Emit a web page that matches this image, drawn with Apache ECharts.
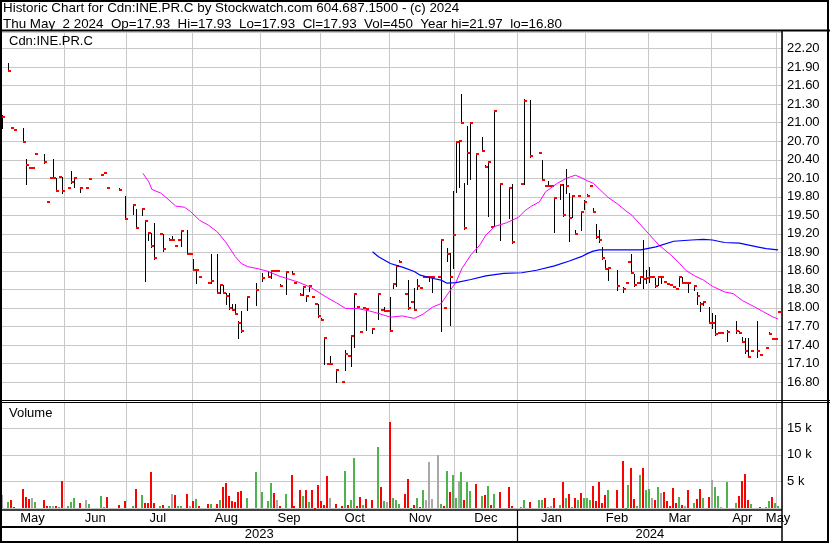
<!DOCTYPE html>
<html><head><meta charset="utf-8">
<script src="https://cdn.jsdelivr.net/npm/echarts@6/dist/echarts.min.js"></script>
<style>html,body{margin:0;padding:0;background:#fff}#c{width:830px;height:543px}</style>
</head><body><div id="c"></div>
<script>
const _ = null;
const headerLine1 = 'Historic Chart for Cdn:INE.PR.C by Stockwatch.com 604.687.1500 - (c) 2024';
const headerLine2 = 'Thu May  2 2024  Op=17.93  Hi=17.93  Lo=17.93  Cl=17.93  Vol=450  Year hi=21.97  lo=16.80';
const symbolLabel = 'Cdn:INE.PR.C';
const volumeLabel = 'Volume';
const firstDay = '2023-05-03';
const lastDay = '2024-05-02';
const monthStarts = ['2023-06-01','2023-06-30','2023-08-01','2023-09-01','2023-09-29','2023-11-01','2023-12-01','2024-01-01','2024-02-01','2024-03-01','2024-04-01','2024-05-01'];
const monthNames = ['May','Jun','Jul','Aug','Sep','Oct','Nov','Dec','Jan','Feb','Mar','Apr','May'];
const yearStarts = ['2024-01-01'];
const yearNames = ['2023','2024'];
const priceMin = 16.5, priceMax = 22.47, priceStep = 0.3;
const volumeMax = 19856, volumeStep = 5000;

const closes = [
 21.10,_,21.84,20.91,20.89,_,_,20.69,20.32,20.26,
 20.26,20.49,_,_,20.36,19.71,20.10,20.10,19.90,20.12,
 19.90,_,19.95,20.04,20.10,_,19.95,_,19.95,20.09,
 _,_,_,20.15,20.19,19.95,_,_,_,19.91,
 _,19.44,_,_,19.66,19.30,_,19.60,19.40,19.22,
 19.01,18.81,_,19.19,18.95,_,19.10,19.10,19.01,19.10,
 19.25,_,18.88,18.88,18.62,18.62,18.50,_,_,18.41,
 18.43,_,18.24,18.37,18.24,18.19,18.00,17.97,17.90,17.76,
 17.63,_,18.18,_,_,18.29,_,18.48,_,18.50,
 18.60,18.59,18.59,18.36,_,18.58,_,18.55,18.41,_,
 18.21,18.34,18.20,18.35,18.18,18.07,17.87,17.81,17.52,17.09,
 17.09,_,16.99,_,16.80,17.26,17.22,17.54,18.22,18.01,
 17.61,18.00,17.99,_,17.66,_,18.23,17.97,17.95,17.95,
 17.63,18.38,18.68,18.74,_,18.22,18.00,18.10,17.97,18.35,
 18.32,18.50,18.50,18.50,18.50,_,18.50,19.10,18.00,18.88,
 18.50,19.18,20.69,20.71,20.99,19.29,20.51,20.99,_,20.50,
 _,20.54,20.28,20.36,19.31,21.19,_,20.00,_,_,
 19.94,19.06,_,_,20.00,21.36,_,20.46,_,_,
 20.51,20.07,19.98,19.98,19.98,19.78,_,19.99,19.50,19.98,
 19.46,19.81,19.19,19.81,19.55,19.72,19.81,19.98,19.55,19.15,
 19.10,18.81,18.63,18.64,_,_,18.35,_,18.31,18.40,
 18.74,18.57,18.37,18.40,18.50,18.47,18.49,18.50,18.50,18.35,
 18.50,18.50,18.42,18.39,18.37,18.34,18.30,18.50,18.40,18.40,
 18.40,_,18.35,18.19,18.06,18.10,_,17.76,17.76,17.57,
 17.59,17.59,_,17.61,_,_,17.63,17.59,17.45,17.30,
 17.21,17.31,_,17.30,17.24,_,17.35,17.58,17.50,17.50,
 17.93,_];

const highs = [
 21.13,_,21.97,_,_,_,_,20.91,20.41,_,
 _,_,_,_,20.50,_,_,20.41,20.10,_,
 20.12,_,_,20.22,20.11,_,19.96,_,_,_,
 _,_,_,_,_,_,_,_,_,19.95,
 _,19.81,_,_,19.67,19.61,_,19.61,19.41,19.23,
 19.21,19.37,_,_,19.19,_,19.14,19.16,_,_,
 19.26,_,19.26,_,18.80,18.63,_,_,_,_,
 18.87,_,18.87,18.37,18.37,18.24,18.24,18.06,18.06,17.78,
 17.95,_,18.18,_,_,18.40,_,18.56,_,18.60,
 18.60,_,_,18.39,_,18.60,_,18.60,_,_,
 18.24,18.35,18.21,18.36,_,_,18.06,17.83,17.53,_,
 17.22,_,17.00,_,_,17.32,_,17.56,18.24,_,
 _,_,18.00,_,17.66,_,18.24,_,18.01,_,
 18.17,18.39,18.69,18.78,_,_,18.45,_,18.32,18.47,
 _,_,_,18.50,18.50,_,_,19.11,_,18.97,
 18.89,19.89,20.69,20.72,21.46,20.02,20.94,21.00,_,20.51,
 _,20.77,20.31,20.38,_,21.21,_,20.00,_,_,
 19.95,20.00,_,_,_,21.38,_,21.37,_,_,
 _,20.39,_,20.05,_,19.78,_,20.01,20.00,20.25,
 19.86,19.82,19.26,_,19.56,19.75,19.84,_,19.62,19.36,
 19.26,18.98,18.78,18.64,_,_,18.61,_,18.34,_,
 18.76,18.87,18.55,_,18.52,19.10,18.61,18.67,_,18.48,
 18.50,18.50,_,_,_,_,_,18.50,18.50,_,
 18.42,_,18.37,18.26,18.10,18.10,_,18.02,17.91,17.89,
 _,_,_,17.64,_,_,17.78,17.63,17.53,17.51,
 17.52,_,_,17.79,_,_,_,17.61,_,_,
 _,_];

const lows = [
 20.91,_,21.84,_,_,_,_,20.68,20.00,_,
 _,_,_,_,20.35,_,_,20.10,19.89,_,
 19.86,_,_,20.03,19.96,_,19.87,_,_,_,
 _,_,_,_,_,_,_,_,_,19.91,
 _,19.44,_,_,19.52,19.29,_,19.50,18.44,19.10,
 18.99,18.80,_,_,18.93,_,19.10,19.10,_,_,
 19.00,_,18.87,_,18.61,18.40,_,_,_,_,
 18.40,_,18.24,18.24,18.24,18.07,17.99,17.97,17.90,17.51,
 17.61,_,17.97,_,_,18.05,_,18.44,_,18.50,
 18.48,_,_,18.36,_,18.23,_,18.55,_,_,
 18.21,18.21,18.12,18.28,_,_,17.86,17.81,17.09,_,
 17.09,_,16.80,_,_,16.99,_,17.06,17.37,_,
 _,_,17.65,_,17.59,_,17.82,_,17.95,_,
 17.63,18.33,18.35,18.74,_,_,17.99,_,17.97,18.30,
 _,_,_,18.44,18.25,_,_,17.63,_,18.76,
 17.72,18.64,19.88,19.96,20.99,19.28,20.01,20.09,_,18.91,
 _,20.54,20.28,19.49,_,19.32,_,19.10,_,_,
 19.45,19.05,_,_,_,20.00,_,20.44,_,_,
 _,20.07,_,19.98,_,19.23,_,19.77,19.49,19.86,
 19.09,19.48,19.19,_,19.27,19.60,19.81,_,19.55,19.14,
 19.06,18.80,18.63,18.45,_,_,18.29,_,18.25,_,
 18.74,18.57,18.35,_,18.41,18.33,18.41,18.42,_,18.34,
 18.37,18.41,_,_,_,_,_,18.35,18.40,_,
 18.25,_,18.29,18.07,17.95,18.05,_,17.76,17.67,17.56,
 _,_,_,17.47,_,_,17.59,17.59,17.45,17.27,
 17.20,_,_,17.21,_,_,_,17.58,_,_,
 _,_];

const volumes = [
 2445,_,1190,1505,250,_,_,3574,2069,1693,
 1881,1129,_,_,1505,376,376,376,376,125,
 5079,_,376,1129,1881,_,1003,_,1505,752,
 _,_,_,2257,100,2069,_,_,_,564,
 _,1379,_,_,376,3574,_,2445,1003,878,
 6772,1003,_,376,564,_,376,2633,2445,376,
 376,_,2633,376,1317,1693,376,_,_,752,
 752,_,752,1505,3950,4765,2257,1379,1129,3010,
 3198,_,1881,_,_,6772,_,3010,_,1317,
 4702,2822,1505,376,_,2633,_,6207,376,_,
 3386,2257,3386,1129,3386,60,4326,1317,564,6019,
 1881,_,752,_,376,6960,564,1505,9405,376,
 2069,564,1693,_,1505,_,11474,3950,1317,1129,
 16177,1881,1505,752,_,2633,5455,60,564,1881,
 188,3386,1505,8653,1693,_,9969,752,376,6960,
 3010,6207,1881,5079,6772,1505,4891,3198,_,4514,
 _,2257,2445,4138,564,2633,_,3010,_,_,
 3950,376,_,_,188,1505,_,1129,_,_,
 1505,1505,1881,250,376,1881,_,564,4891,1881,
 2633,188,1881,1505,2822,1881,1881,1505,4138,1317,
 4891,940,2445,3386,_,_,3386,_,8840,60,
 4326,7524,1693,376,6207,7524,3386,3574,1881,1505,
 3950,2822,3010,1317,376,3762,940,2069,564,376,
 3386,_,940,1693,3574,1881,_,2069,5267,3950,
 2257,188,_,4891,_,_,940,2257,5079,6395,
 1505,752,_,_,188,_,188,1317,2069,940,
 376,_];

// u = closed up (green), d = closed down (red), n = unchanged (grey), . = no trade
const volumeTrend = (
 'n.udd..ddd' + 'nu..ddundu' + 'd.uuu.d.nu' + '...uud...d' + '.d..ud.udd' +
 'dd.ud.undu' + 'u.dndud..d' + 'u.dudddddd' + 'd.u..u.u.u' + 'udnd.u.dd.' +
 'dududddddd' + 'n.d.duduud' + 'dud.d.udun' + 'duuu.ddudu' + 'dunnn.nudu' +
 'duunuduu.d' + '.ududu.d..' + 'dd..uu.d..' + 'uudnnd.udu' + 'dududuuudd' +
 'dddu..d.du' + 'udduuduund' + 'undddddudn' + 'd.uddu.dnu' + 'un.u..uddd' +
 'du..d.uudu' + 'u.').split('');

const ma50 = [
 _,_,_,_,_,_,_,_,_,_,
 _,_,_,_,_,_,_,_,_,_,
 _,_,_,_,_,_,_,_,_,_,
 _,_,_,_,_,_,_,_,_,_,
 _,_,_,_,_,_,_,20.18,_,20.04,
 19.92,_,_,19.86,_,19.78,_,_,19.65,_,
 _,19.63,_,19.56,_,_,19.42,_,_,19.34,
 _,_,19.23,_,_,19.05,_,_,18.83,_,
 18.72,_,18.67,_,_,_,18.63,_,_,18.59,
 _,_,_,18.51,_,_,_,_,_,18.42,
 _,_,_,18.34,_,_,18.25,_,_,18.16,
 _,_,18.08,_,_,17.99,_,_,_,17.99,
 _,_,_,17.95,_,_,17.91,_,_,_,
 17.85,_,_,_,17.87,_,_,_,17.83,_,
 _,17.90,_,_,18.01,_,_,18.07,_,18.21,
 _,_,18.42,_,18.64,_,_,18.86,_,_,
 19.02,_,19.18,_,_,19.32,_,_,_,19.38,
 _,_,_,19.47,_,19.57,_,19.64,_,_,
 19.72,_,19.88,_,_,_,20.02,_,_,20.10,
 _,_,20.15,_,20.11,_,20.06,_,20.02,_,
 _,_,_,19.79,_,_,19.69,_,_,19.57,
 _,19.50,_,_,19.34,_,_,19.18,_,_,
 19.02,_,_,_,18.86,_,_,18.72,_,18.61,
 _,_,18.52,_,_,18.45,_,_,18.35,_,
 _,_,18.26,_,_,18.23,_,_,18.12,_,
 _,_,18.02,_,_,17.94,_,_,17.86,_,
 17.82,_];

const ma100 = [
 _,_,_,_,_,_,_,_,_,_,
 _,_,_,_,_,_,_,_,_,_,
 _,_,_,_,_,_,_,_,_,_,
 _,_,_,_,_,_,_,_,_,_,
 _,_,_,_,_,_,_,_,_,_,
 _,_,_,_,_,_,_,_,_,_,
 _,_,_,_,_,_,_,_,_,_,
 _,_,_,_,_,_,_,_,_,_,
 _,_,_,_,_,_,_,_,_,_,
 _,_,_,_,_,_,_,_,_,_,
 _,_,_,_,_,_,_,_,_,_,
 _,_,_,_,_,_,_,_,_,_,
 _,_,_,_,18.91,_,18.83,_,_,_,
 18.72,_,_,_,18.66,_,_,_,18.59,_,
 18.53,_,_,_,18.48,_,_,18.45,_,18.40,
 _,_,18.41,_,_,_,_,18.46,_,_,
 _,_,18.52,_,_,_,_,_,18.56,_,
 _,_,_,_,18.57,_,_,_,_,18.61,
 _,_,_,_,_,18.68,_,_,_,_,
 18.76,_,_,_,18.83,_,18.88,_,18.92,_,
 18.94,_,_,_,_,18.94,_,_,_,_,
 _,_,_,_,18.94,_,_,_,_,18.99,
 _,_,_,_,_,19.08,_,_,_,_,
 _,19.10,_,_,_,19.11,_,_,19.10,_,
 _,_,19.06,_,_,_,_,19.05,_,_,
 _,_,_,18.99,_,_,18.96,_,_,_,
 18.94,_];

// ---------- build ----------
const categories = [];
for (let d = new Date(firstDay + 'T00:00:00Z'); d <= new Date(lastDay + 'T00:00:00Z'); d.setUTCDate(d.getUTCDate() + 1)) {
  const wd = d.getUTCDay();
  if (wd === 0 || wd === 6) continue;
  categories.push(d.toISOString().slice(0, 10));
}
const N = categories.length;
const boundaryIdx = monthStarts.map(s => categories.indexOf(s));
const boundarySet = new Set(boundaryIdx);
const secStarts = [0].concat(boundaryIdx);
const monthLabelAt = {};
secStarts.forEach((s, k) => {
  const e = k + 1 < secStarts.length ? secStarts[k + 1] : N;
  monthLabelAt[Math.floor((s + e - 1) / 2)] = monthNames[k];
});
const yearIdx = yearStarts.map(s => categories.indexOf(s));
const ySecStarts = [0].concat(yearIdx);
const yearLabelAt = {};
ySecStarts.forEach((s, k) => {
  const e = k + 1 < ySecStarts.length ? ySecStarts[k + 1] : N;
  yearLabelAt[Math.floor((s + e - 1) / 2)] = yearNames[k];
});

const priceData = [];
closes.forEach((c, i) => {
  if (c == null) return;
  priceData.push([i, highs[i] != null ? highs[i] : c, lows[i] != null ? lows[i] : c, c]);
});
const trendColor = { u: '#4db34d', d: '#ff0000', n: '#a8a8a8' };
const volData = [], volColors = [];
volumes.forEach((v, i) => {
  if (v == null) return;
  volData.push([i, v]);
  volColors.push(trendColor[volumeTrend[i]] || '#a8a8a8');
});

const FONT = "'Liberation Sans', Arial, Helvetica, sans-serif";
const GRID_COLOR = '#c8c8c8';
const txt = { fontSize: 13, fontWeight: 'normal', fontFamily: FONT, color: '#000', lineHeight: 15 };
const hdr = { fontSize: 13.4, fontWeight: 'normal', fontFamily: FONT, color: '#000', lineHeight: 15 };

const gridLeft = 1.26, gridWidth = 781.3;

const chart = echarts.init(document.getElementById('c'), null, { renderer: 'canvas', width: 830, height: 543 });
chart.setOption({
  animation: false,
  backgroundColor: '#fff',
  title: [
    { text: headerLine1, left: 3, top: 1.2, padding: 0, textStyle: hdr },
    { text: headerLine2, left: 3, top: 16.5, padding: 0, textStyle: hdr },
    { text: symbolLabel, left: 9, top: 34.2, padding: 0, textStyle: txt },
    { text: volumeLabel, left: 9, top: 405.8, padding: 0, textStyle: txt }
  ],
  grid: [
    { left: gridLeft, top: 32, width: gridWidth, height: 368.5 },
    { left: gridLeft, top: 402.5, width: gridWidth, height: 105.5 }
  ],
  xAxis: [
    { type: 'category', gridIndex: 0, data: categories, boundaryGap: true,
      axisLine: { show: false }, axisTick: { show: false }, axisLabel: { show: false },
      splitLine: { show: true, interval: (i) => boundarySet.has(i), lineStyle: { color: GRID_COLOR, width: 1 } } },
    { type: 'category', gridIndex: 1, data: categories, boundaryGap: true, position: 'bottom',
      axisLine: { show: false }, axisTick: { show: false },
      axisLabel: { show: true, interval: (i) => monthLabelAt[i] !== undefined, formatter: (v, i) => monthLabelAt[i] || '',
        margin: 4, fontSize: 13, fontFamily: FONT, color: '#000' },
      splitLine: { show: true, interval: (i) => boundarySet.has(i), lineStyle: { color: GRID_COLOR, width: 1 } } },
    { type: 'category', gridIndex: 1, data: categories, boundaryGap: true, position: 'bottom', offset: 16,
      axisLine: { show: false }, axisTick: { show: false }, splitLine: { show: false },
      axisLabel: { show: true, interval: (i) => yearLabelAt[i] !== undefined, formatter: (v, i) => yearLabelAt[i] || '',
        margin: 4, fontSize: 13, fontFamily: FONT, color: '#000' } }
  ],
  yAxis: [
    { type: 'value', gridIndex: 0, position: 'right', min: priceMin, max: priceMax, interval: priceStep,
      axisLine: { show: false }, axisTick: { show: false },
      axisLabel: { showMinLabel: false, showMaxLabel: false, margin: 4.5, fontSize: 13, fontFamily: FONT, color: '#000',
        formatter: (v) => v.toFixed(2) },
      splitLine: { show: true, lineStyle: { color: GRID_COLOR, width: 1 } } },
    { type: 'value', gridIndex: 1, position: 'right', min: 0, max: volumeMax, interval: volumeStep,
      axisLine: { show: false }, axisTick: { show: false },
      axisLabel: { showMinLabel: false, showMaxLabel: false, margin: 4.5, fontSize: 13, fontFamily: FONT, color: '#000',
        formatter: (v) => (v / 1000) + ' k' },
      splitLine: { show: true, lineStyle: { color: GRID_COLOR, width: 1 } } }
  ],
  series: [
    { type: 'custom', name: 'Price', xAxisIndex: 0, yAxisIndex: 0, data: priceData, silent: true, clip: false, z: 2,
      encode: { x: 0, y: [1, 2, 3] },
      renderItem: (params, api) => {
        const i = api.value(0);
        const top = api.coord([i, api.value(1)]);
        const bot = api.coord([i, api.value(2)]);
        const cl = api.coord([i, api.value(3)]);
        const x = Math.floor(top[0]);
        const y1 = Math.round(top[1]), y2 = Math.round(bot[1]);
        const children = [];
        if (y2 - y1 >= 1) children.push({ type: 'rect', shape: { x: x, y: y1, width: 1, height: y2 - y1 + 1 }, style: { fill: '#000' } });
        children.push({ type: 'rect', shape: { x: x, y: Math.round(cl[1]) - 1, width: 3, height: 2 }, style: { fill: '#ff0000' } });
        return { type: 'group', children: children };
      } },
    { type: 'line', name: 'MA50', xAxisIndex: 0, yAxisIndex: 0, data: ma50, connectNulls: true, showSymbol: false, symbol: 'none',
      silent: true, z: 3, lineStyle: { color: '#ff00ff', width: 1 } },
    { type: 'line', name: 'MA100', xAxisIndex: 0, yAxisIndex: 0, data: ma100, connectNulls: true, showSymbol: false, symbol: 'none',
      silent: true, z: 3, lineStyle: { color: '#0000ff', width: 1.2 } },
    { type: 'custom', name: 'Volume', xAxisIndex: 1, yAxisIndex: 1, data: volData, silent: true, clip: false, z: 2,
      encode: { x: 0, y: 1 },
      renderItem: (params, api) => {
        const i = api.value(0);
        const p = api.coord([i, api.value(1)]);
        const b = api.coord([i, 0]);
        const x = Math.floor(p[0]) - 1;
        const yt = Math.round(p[1]), yb = Math.round(b[1]);
        return { type: 'rect', shape: { x: x, y: yt, width: 2, height: Math.max(yb - yt, 1) },
          style: { fill: volColors[params.dataIndex] } };
      } }
  ]
});

// frame lines and separators
const xa = chart.convertToPixel({ xAxisIndex: 1 }, yearIdx[0]);
const xb = chart.convertToPixel({ xAxisIndex: 1 }, yearIdx[0] - 1);
const yearSepX = Math.round((xa + xb) / 2) + 0.5;
const L = (x1, y1, x2, y2, w) => ({ type: 'line', z: 100, silent: true, shape: { x1, y1, x2, y2 }, style: { stroke: '#000', lineWidth: w } });
chart.setOption({
  graphic: [
    { type: 'rect', z: 100, silent: true, shape: { x: 1, y: 1, width: 827, height: 541 }, style: { stroke: '#000', fill: null, lineWidth: 2 } },
    L(0, 30.5, 830, 30.5, 2),
    L(782, 30, 782, 543, 1.5),
    L(0, 400.5, 830, 400.5, 1),
    L(0, 402.5, 830, 402.5, 1),
    L(0, 510, 782, 510, 1.6),
    L(0, 527, 782, 527, 2),
    L(yearSepX, 510, yearSepX, 542, 1.2)
  ]
});
</script>
</body></html>
